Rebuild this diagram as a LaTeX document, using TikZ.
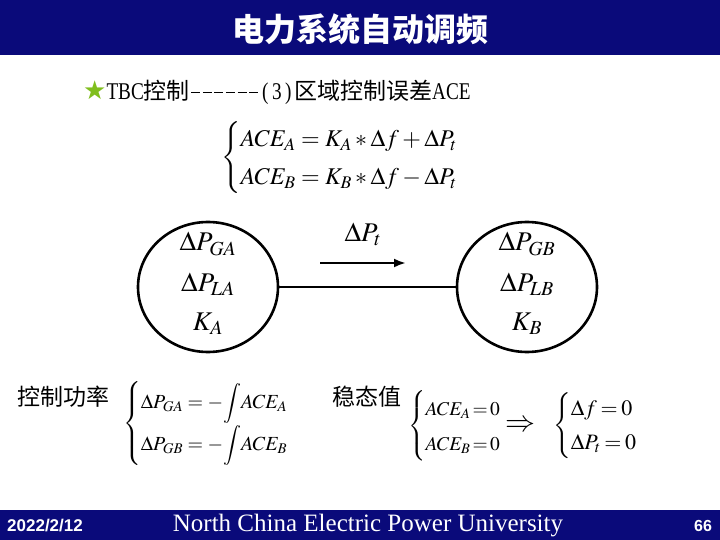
\documentclass[tikz,border=0pt]{standalone}
\usepackage{amsmath}
\usepackage{mathptmx}
\usepackage[no-math]{fontspec}
\setmainfont{Liberation Serif}
\newfontfamily\cjk{Noto Sans CJK SC}
\newfontfamily\symb{DejaVu Sans}
\newfontfamily\hdsans{Liberation Sans}
\newfontfamily\halfw{Liberation Serif}[FakeStretch=0.8]
\newcommand\hw[1]{\makebox[11.6pt]{#1}}
\newcommand\dashch{\hw{\rule[0.27em]{9pt}{0.9pt}}}
\usetikzlibrary{shapes.geometric,arrows.meta}
\definecolor{barblue}{RGB}{10,10,122}
\definecolor{stargreen}{RGB}{128,190,30}
\tikzset{
  area/.style={ellipse, draw, line width=2.6pt, minimum width=140pt, minimum height=130pt},
  eqn/.style={anchor=west, inner sep=0pt},
  var/.style={inner sep=0pt, font=\fontsize{27}{30}\selectfont},
  cjklabel/.style={anchor=west, inner sep=0pt, font=\fontsize{23}{26}\selectfont\cjk}
}

\begin{document}
\begin{tikzpicture}[x=1pt,y=-1pt]
  \useasboundingbox (0,0) rectangle (720,540);
  \fill[barblue] (0,0) rectangle (720,55); \fill[barblue] (0,510) rectangle (720,540);
  \node[text=white, font=\fontsize{32}{34}\selectfont\cjk\bfseries] (title) at (360,29) {电力系统自动调频};
  \node[eqn, font=\fontsize{24}{26}\selectfont\halfw] (tbc) at (83,92) {{\fontsize{26}{28}\selectfont\symb\color{stargreen}★}TBC{\fontsize{23}{26}\selectfont\cjk 控制}\dashch\dashch\dashch\dashch\dashch\dashch\hw{(}\hw{3}\hw{)}{\fontsize{23}{26}\selectfont\cjk 区域控制误差}ACE};
  \node[eqn, font=\fontsize{24}{28}\selectfont] (ace) at (221,158)
    {$\renewcommand{\arraystretch}{1.35}\left\{\begin{array}{@{}l@{}}ACE_A=K_A*\Delta f+\Delta P_t\\ ACE_B=K_B*\Delta f-\Delta P_t\end{array}\right.$};

  % two areas and the tie line
  \node[area] (areaA) at (208,287) {};
  \node[area] (areaB) at (527,287) {};
  \draw[line width=2.6pt] (areaA)--(areaB);
  \node[var] (pga) at (208,244) {$\Delta P_{GA}$};
  \node[var] (pla) at (208,284) {$\Delta P_{LA}$};
  \node[var] (ka) at (208,324) {$K_A$};
  \node[var] (pgb) at (527,244) {$\Delta P_{GB}$};
  \node[var] (plb) at (527,284) {$\Delta P_{LB}$};
  \node[var] (kb) at (527,324) {$K_B$};
  \coordinate (tA) at (320,263); \coordinate (tB) at (406,263);
  \draw[line width=2.4pt, -{Latex[length=12pt,width=9pt]}] (tA)--(tB);
  \node[var] (pt) at (363,234) {$\Delta P_t$};

  \node[cjklabel] (ctrl) at (17,397) {控制功率};
  \node[eqn, font=\fontsize{20}{24}\selectfont] (integ) at (123,423)
    {$\renewcommand{\arraystretch}{1.65}\left\{\begin{array}{@{}l@{}}\Delta P_{GA}=-{\displaystyle\int} ACE_A\\ \Delta P_{GB}=-{\displaystyle\int} ACE_B\end{array}\right.$};
  \node[cjklabel] (steady) at (332,397) {稳态值};
  \node[eqn, font=\fontsize{19.5}{24}\selectfont] (zeroA) at (408,426)
    {$\thickmuskip=2mu\renewcommand{\arraystretch}{1.45}\left\{\begin{array}{@{}l@{}}ACE_A=0\\ ACE_B=0\end{array}\right.$};
  \node[eqn, font=\fontsize{30}{30}\selectfont] (imply) at (505,426) {$\Rightarrow$};
  \node[eqn, font=\fontsize{22}{26}\selectfont] (zeroB) at (553,426)
    {$\thickmuskip=3mu\renewcommand{\arraystretch}{1.3}\left\{\begin{array}{@{}l@{}}\Delta f=0\\ \Delta P_t=0\end{array}\right.$};

  \node[eqn, text=white, font=\fontsize{17}{19}\selectfont\hdsans\bfseries] (date) at (7,526) {2022/2/12};
  \node[text=white, font=\fontsize{25}{27}\selectfont] (univ) at (368,526) {North China Electric Power University};
  \node[text=white, font=\fontsize{16}{18}\selectfont\hdsans\bfseries] (page) at (703,526) {66};
\end{tikzpicture}
\end{document}
